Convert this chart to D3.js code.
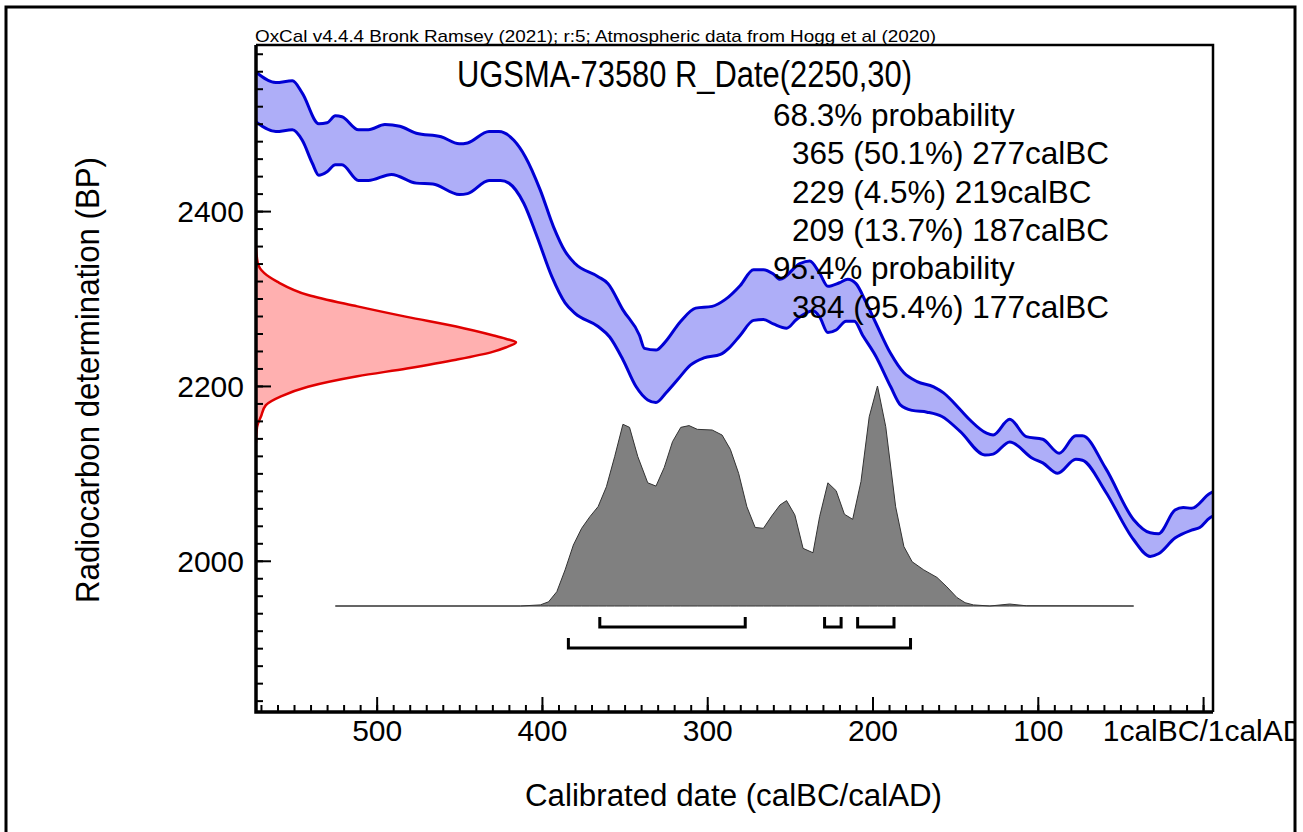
<!DOCTYPE html>
<html>
<head>
<meta charset="utf-8">
<script src="https://cdn.jsdelivr.net/npm/d3@7"></script>
<style>
body { margin: 0; background: #fff; }
text { font-family: "Liberation Sans", Arial, sans-serif; fill: #000; }
</style>
</head>
<body>
<script>
// ---------------- data ----------------
// calibration curve, upper edge [year calBC, BP]
var curveUpper = [[573,2559],[561,2547],[551,2549],[545,2535],[535,2500],[530,2501],[525,2509],[521,2508],
  [511,2493],[505,2493],[495,2499],[486,2497],[476,2489],[461,2485],[450,2477],[445,2478],[432,2491],[426,2491],
  [417,2481],[410,2462],[401,2424],[393,2382],[386,2354],[380,2340],[366,2325],[360,2317],[351,2287],[341,2258],
  [338,2243],[331,2241],[326,2249],[316,2274],[307,2289],[297,2291],[289,2299],[280,2315],[272,2333],[266,2333],
  [260,2328],[256,2322],[244,2340],[238,2343],[232,2329],[227,2314],[220,2318],[215,2322],[210,2317],[204,2296],
  [198,2272],[189,2237],[181,2215],[173,2205],[163,2199],[157,2192],[147,2173],[141,2161],[131,2146],[127,2144],
  [117,2162],[107,2142],[97,2139],[87,2123],[77,2143],[73,2143],[59,2106],[42,2047],[32,2032],[27,2031],
  [17,2058],[12,2061],[7,2060],[-4,2077],[-6,2079]];

// calibration curve, lower edge [year calBC, BP]
var curveLower = [[573,2502],[561,2491],[551,2493],[545,2481],[539,2455],[535,2441],[530,2445],[525,2453],
  [521,2453],[511,2435],[505,2435],[491,2442],[476,2432],[466,2431],[450,2419],[445,2420],[432,2435],[425,2435],
  [420,2432],[411,2409],[403,2371],[394,2325],[386,2295],[380,2283],[366,2268],[359,2256],[351,2230],[343,2199],
  [336,2184],[331,2181],[325,2192],[318,2207],[310,2224],[302,2232],[292,2236],[287,2243],[280,2258],[272,2275],
  [266,2276],[260,2271],[252,2266],[246,2276],[236,2286],[232,2279],[227,2261],[222,2264],[216,2274],[211,2274],
  [206,2258],[198,2234],[189,2199],[183,2178],[176,2172],[167,2170],[158,2165],[147,2148],[132,2121],[127,2122],
  [117,2136],[103,2117],[97,2112],[88,2100],[77,2116],[73,2115],[59,2079],[42,2024],[32,2005],[27,2008],
  [17,2026],[7,2035],[2,2038],[-4,2049],[-6,2051]];

// radiocarbon measurement R_Date(2250,30) [BP, relative prob]
var measured = [[2359,0],[2340,0.007],[2329,0.032],[2319,0.083],[2304,0.2],[2291,0.39],[2279,0.58],[2268,0.77],
  [2258,0.91],[2254,0.96],[2250,1],[2244,0.96],[2239,0.91],[2230,0.77],[2220,0.58],[2211,0.39],[2199,0.2],
  [2188,0.096],[2178,0.038],[2165,0.019],[2153,0.004],[2135,0]];

// calibrated posterior [year calBC, relative prob]
var posterior = [[525,0],[413,0],[401,0.005],[396,0.019],[391,0.065],[386,0.164],[381,0.277],[376,0.353],
  [371,0.406],[366,0.452],[361,0.542],[356,0.679],[351,0.826],[347,0.812],[342,0.679],[336,0.56],[331,0.545],
  [326,0.63],[321,0.747],[316,0.812],[311,0.82],[306,0.803],[297,0.8],[291,0.777],[286,0.712],[281,0.603],
  [276,0.451],[271,0.357],[266,0.353],[261,0.409],[256,0.459],[252,0.479],[247,0.414],[242,0.262],[236,0.242],
  [232,0.406],[227,0.56],[222,0.524],[217,0.417],[212,0.394],[207,0.565],[202,0.86],[197,1.0],[192,0.815],
  [186,0.451],[181,0.27],[176,0.201],[169,0.164],[161,0.13],[155,0.087],[149,0.039],[144,0.015],[139,0.005],
  [129,0],[117,0.009],[107,0.001],[42,0]];

// ranges (calBC)
var range68 = [[365,277],[229,219],[209,187]];
var range95 = [[384,177]];

var summaryLines = ["68.3% probability", "365 (50.1%) 277calBC", "229 (4.5%) 219calBC",
  "209 (13.7%) 187calBC", "95.4% probability", "384 (95.4%) 177calBC"];

var xMajor = [500, 400, 300, 200, 100, 0];
var yMajor = [2000, 2200, 2400];

// ---------------- layout ----------------
var W = 1303, H = 832;
var plot = {left: 256, right: 1213, top: 45, bottom: 712};

var svg = d3.select("body").append("svg")
    .attr("width", W)
    .attr("height", H);

var defs = svg.append("defs");
defs.append("clipPath").attr("id", "page")
    .append("rect").attr("x", 0).attr("y", 0).attr("width", 1294).attr("height", H);
defs.append("clipPath").attr("id", "plotclip")
    .append("rect").attr("x", plot.left).attr("y", plot.top)
    .attr("width", plot.right - plot.left).attr("height", plot.bottom - plot.top);

var root = svg.append("g").attr("clip-path", "url(#page)");

var x = d3.scaleLinear().domain([573, -6]).range([plot.left, plot.right]);
var y = d3.scaleLinear().domain([1827, 2590]).range([plot.bottom, plot.top]);
var measX = d3.scaleLinear().domain([0, 1]).range([plot.left, 516]);
var postY = d3.scaleLinear().domain([0, 1]).range([606, 386]);

var inner = root.append("g").attr("clip-path", "url(#plotclip)");

// calibration curve band
var curveLine = d3.line()
    .x(function(d) { return x(d[0]); })
    .y(function(d) { return y(d[1]); })
    .curve(d3.curveMonotoneX);

inner.append("path")
    .attr("d", curveLine(curveUpper) + "L" + curveLine(curveLower.slice().reverse()).slice(1) + "Z")
    .style("fill", "#aeaef8")
    .style("stroke", "none");
[curveUpper, curveLower].forEach(function(c) {
    inner.append("path")
        .attr("d", curveLine(c))
        .style("fill", "none")
        .style("stroke", "#0000d4")
        .style("stroke-width", 3)
        .style("stroke-linejoin", "round");
});

// measurement on the y axis
var measArea = d3.area()
    .y(function(d) { return y(d[0]); })
    .x0(plot.left)
    .x1(function(d) { return measX(d[1]); })
    .curve(d3.curveMonotoneY);
inner.append("path")
    .attr("d", measArea(measured))
    .style("fill", "#ffb0b0");
inner.append("path")
    .attr("d", measArea.lineX1()(measured))
    .style("fill", "none")
    .style("stroke", "#e00000")
    .style("stroke-width", 2.5);

// calibrated distribution
var postArea = d3.area()
    .x(function(d) { return x(d[0]); })
    .y0(postY(0))
    .y1(function(d) { return postY(d[1]); });
inner.append("path")
    .attr("d", postArea(posterior))
    .style("fill", "#808080")
    .style("stroke", "#333")
    .style("stroke-width", 1);

// range brackets
function bracket(r, yy) {
    inner.append("path")
        .attr("d", "M" + x(r[0]) + "," + (yy - 10) + "V" + yy + "H" + x(r[1]) + "V" + (yy - 10))
        .style("fill", "none")
        .style("stroke", "#000")
        .style("stroke-width", 3);
}
range68.forEach(function(r) { bracket(r, 627); });
range95.forEach(function(r) { bracket(r, 648); });

// ---------------- axes ----------------
var yAxisG = root.append("g").attr("transform", "translate(" + plot.left + ",0)");
yAxisG.call(d3.axisLeft(y).tickValues(d3.range(1840, 2590, 20)).tickSize(-7).tickFormat(""));
yAxisG.append("g").call(d3.axisLeft(y).tickValues(yMajor).tickSize(-15).tickPadding(12)
    .tickFormat(d3.format("d")));
yAxisG.selectAll("path.domain").remove();
yAxisG.selectAll("line").style("stroke-width", 2);
yAxisG.selectAll("text")
    .style("font-size", "30px")
    .style("font-family", "'Liberation Sans', Arial, sans-serif")
    .attr("dy", "0.36em");

var xAxisG = root.append("g").attr("transform", "translate(0," + plot.bottom + ")");
xAxisG.call(d3.axisBottom(x).tickValues(d3.range(570, -1, -10)).tickSize(-7).tickFormat(""));
xAxisG.append("g").call(d3.axisBottom(x).tickValues(xMajor).tickSize(-15).tickPadding(8)
    .tickFormat(function(d) { return d === 0 ? "1calBC/1calAD" : d; }));
xAxisG.selectAll("path.domain").remove();
xAxisG.selectAll("line").style("stroke-width", 2);
xAxisG.selectAll("text")
    .style("font-size", "30px")
    .style("font-family", "'Liberation Sans', Arial, sans-serif");

// frame
root.append("path")
    .attr("d", "M" + plot.left + "," + plot.top + "H" + plot.right + "V" + plot.bottom)
    .style("fill", "none").style("stroke", "#000").style("stroke-width", 2.5);
root.append("path")
    .attr("d", "M" + plot.left + "," + plot.top + "V" + plot.bottom + "H" + plot.right)
    .style("fill", "none").style("stroke", "#000").style("stroke-width", 3.5);

// ---------------- texts ----------------
root.append("text")
    .attr("x", 255).attr("y", 41.5)
    .attr("textLength", 681).attr("lengthAdjust", "spacingAndGlyphs")
    .style("font-size", "17px")
    .text("OxCal v4.4.4 Bronk Ramsey (2021); r:5; Atmospheric data from Hogg et al (2020)");

root.append("text")
    .attr("x", 457).attr("y", 87)
    .attr("textLength", 455).attr("lengthAdjust", "spacingAndGlyphs")
    .style("font-size", "36px")
    .text("UGSMA-73580 R_Date(2250,30)");

summaryLines.forEach(function(s, i) {
    var head = s.indexOf("probability") > 0;
    root.append("text")
        .attr("x", head ? 773 : 792)
        .attr("y", 126 + i * 38.3)
        .style("font-size", "31.5px")
        .text(s);
});

root.append("text")
    .attr("transform", "translate(99,380) rotate(-90)")
    .attr("text-anchor", "middle")
    .attr("textLength", 446).attr("lengthAdjust", "spacingAndGlyphs")
    .style("font-size", "34px")
    .text("Radiocarbon determination (BP)");

root.append("text")
    .attr("x", 733.5).attr("y", 806)
    .attr("text-anchor", "middle")
    .attr("textLength", 417).attr("lengthAdjust", "spacingAndGlyphs")
    .style("font-size", "31px")
    .text("Calibrated date (calBC/calAD)");

// outer border
svg.append("rect")
    .attr("x", 6).attr("y", 7).attr("width", 1289).attr("height", 900)
    .style("fill", "none").style("stroke", "#000").style("stroke-width", 3);
</script>
</body>
</html>
